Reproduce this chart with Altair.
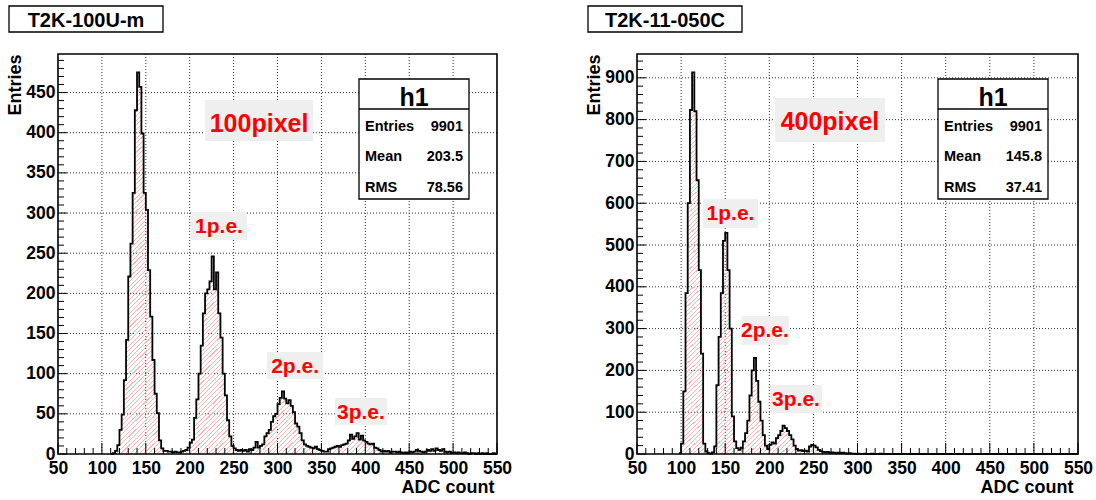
import altair as alt
import numpy as np
import pandas as pd

FONT = "Liberation Sans"

# ---------------- data ----------------
BIN_W = 2.5
LEFT_START = 110.0
LEFT_COUNTS = [
    0, 1, 4, 11, 30, 49, 92, 142, 221, 262,
    325, 428, 475, 457, 399, 325, 304, 229, 171, 117,
    75, 51, 17, 7, 4, 4, 3, 3, 2, 3,
    2, 2, 3, 4, 5, 8, 14, 18, 45, 68,
    100, 135, 175, 200, 205, 215, 246, 205, 226, 175,
    145, 100, 73, 42, 22, 10, 7, 5, 4, 5,
    4, 5, 3, 6, 5, 8, 15, 8, 10, 12,
    22, 26, 30, 40, 47, 50, 62, 70, 78, 69,
    63, 67, 60, 52, 38, 34, 26, 17, 12, 10,
    9, 8, 7, 9, 6, 5, 4, 3, 3, 6,
    7, 8, 9, 10, 9, 11, 12, 13, 17, 24,
    19, 22, 26, 18, 23, 17, 15, 13, 12, 13,
    8, 7, 5, 3, 4, 3, 4, 2, 3, 3,
    2, 3, 2, 1, 2, 1, 3, 2, 3, 5,
    4, 3, 2, 3, 5, 4, 6, 4, 7, 5,
    4, 6, 3, 2, 3, 1, 2, 1, 2, 1,
    1, 2, 1, 0, 1, 1, 0, 1, 0, 1,
    0, 1, 0, 0, 1, 0,
]
RIGHT_START = 97.5
RIGHT_COUNTS = [
    2, 25, 150, 385, 600, 823, 913, 820, 655, 440,
    240, 25, 6, 2, 1, 4, 18, 165, 280, 385,
    510, 529, 440, 300, 90, 30, 14, 10, 15, 30,
    50, 80, 140, 200, 230, 175, 125, 80, 45, 20,
    12, 22, 28, 25, 38, 45, 55, 68, 62, 55,
    45, 35, 20, 12, 8, 9, 7, 8, 6, 18,
    22, 20, 16, 10, 7, 5, 4, 5, 3, 4,
    3, 2, 3, 2, 3, 2, 1, 2, 1, 1,
    0, 1, 0, 0, 1, 0, 0, 1, 0, 0,
    0, 1, 0, 0, 0, 0, 0, 0, 0, 0,
] + [0] * 81

X_LABELS = [50, 100, 150, 200, 250, 300, 350, 400, 450, 500, 550]
X_GRID = [100, 150, 200, 250, 300, 350, 400, 450, 500]
X_MINOR = [v for v in range(60, 550, 10) if v % 50]
LEFT_Y_LABELS = [0, 50, 100, 150, 200, 250, 300, 350, 400, 450]
LEFT_Y_MINOR = [v for v in range(10, 498, 10) if v % 50]
LEFT_YMAX = 498
RIGHT_Y_LABELS = [0, 100, 200, 300, 400, 500, 600, 700, 800, 900]
RIGHT_Y_MINOR = [v for v in range(20, 957, 20) if v % 100]
RIGHT_YMAX = 957

LEFT_TITLE = "T2K-100U-m"
RIGHT_TITLE = "T2K-11-050C"
STAT_NAMES = ["Entries", "Mean", "RMS"]
LEFT_STATS = ["9901", "203.5", "78.56"]
RIGHT_STATS = ["9901", "145.8", "37.41"]

NOTES = ["100pixel", "1p.e.", "2p.e.", "3p.e."]
RIGHT_NOTES = ["400pixel", "1p.e.", "2p.e.", "3p.e."]
NOTE_SIZES = [25, 21, 21, 21]
LEFT_NOTE_X = [279, 233.4, 320, 395]
LEFT_NOTE_Y = [401, 275.2, 101, 43.6]
LEFT_BOX_X1 = [217.4, 201.5, 288, 365.5]
LEFT_BOX_X2 = [340.4, 265.3, 351.8, 424.7]
LEFT_BOX_Y1 = [389.8, 266.5, 93.4, 36.1]
LEFT_BOX_Y2 = [440.8, 301.4, 127, 69.7]
RIGHT_NOTE_X = [268.8, 156, 195, 230.3]
RIGHT_NOTE_Y = [775, 559.8, 280, 114.8]
RIGHT_BOX_X1 = [206.5, 124.8, 168.6, 200.6]
RIGHT_BOX_X2 = [331.2, 187.2, 222, 259.8]
RIGHT_BOX_Y1 = [746.4, 540.7, 260.8, 98]
RIGHT_BOX_Y2 = [851.7, 610, 330, 165]

# ---------------- layout ----------------
H = 400
ONE = pd.DataFrame({"k": [0]})
PINK = "#f6b4b4"
CLEAR = "rgba(255,255,255,0)"


def hatch(width_px):
    n = int(round(2 * width_px / 4.6))
    stops = []
    for k in range(n):
        a, b, c = k / n, (k + 0.24) / n, (k + 1) / n
        stops += [
            {"offset": a, "color": PINK},
            {"offset": b, "color": PINK},
            {"offset": b, "color": CLEAR},
            {"offset": c, "color": CLEAR},
        ]
    return {"gradient": "linear", "x1": 0, "y1": 0, "x2": 1, "y2": 1, "stops": stops}


def txt(s, x, y, size, align="left", color="black"):
    return alt.Chart(ONE).mark_text(
        text=s, font=FONT, fontWeight="bold", fontSize=size, align=align,
        baseline="alphabetic", color=color,
    ).encode(x=alt.value(x), y=alt.value(y))


def box(x1, x2, y1, y2, fill, stroke, sw):
    return alt.Chart(ONE).mark_rect(fill=fill, stroke=stroke, strokeWidth=sw).encode(
        x=alt.value(x1), x2=alt.value(x2), y=alt.value(y1), y2=alt.value(y2)
    )


def panel(counts, start, ymax, ylabels, yminor, x0, pw, title, stats,
          notes, nx, ny, bx1, bx2, by1, by2):
    edges = start + BIN_W * np.arange(len(counts) + 1)
    hist = pd.DataFrame({"x": edges, "n": list(counts) + [counts[-1]]})
    xs = alt.Scale(domain=[50, 550], range=[x0, x0 + pw], nice=False, zero=False)
    ys = alt.Scale(domain=[0, ymax], nice=False)
    xax = alt.Axis(
        values=X_LABELS, orient="bottom", grid=False, ticks=False, tickSize=0,
        domain=False, labelFont=FONT, labelFontWeight="bold", labelFontSize=17.5,
        labelColor="black", labelPadding=5, labelFlush=False, labelOverlap=False,
        format="d", title="ADC count", titleFont=FONT, titleFontWeight="bold",
        titleFontSize=18, titleColor="black", titleX=x0 + 436, titleY=42,
        titleAlign="right", titleBaseline="bottom", titleAngle=0,
    )
    yax = alt.Axis(
        values=ylabels, orient="left", offset=-x0, grid=False, ticks=False,
        tickSize=0, domain=False, labelFont=FONT, labelFontWeight="bold",
        labelFontSize=17.5, labelColor="black", labelPadding=3, labelFlush=False,
        labelOverlap=False, format="d", title="Entries", titleFont=FONT,
        titleFontWeight="bold", titleFontSize=18, titleColor="black",
        titleX=-43, titleY=0, titleAngle=270, titleAlign="right",
        titleBaseline="middle",
    )
    X = lambda f: alt.X(f, scale=xs, axis=xax)
    Y = lambda f: alt.Y(f, scale=ys, axis=yax)

    gx = pd.DataFrame({"g": X_GRID})
    gy = pd.DataFrame({"g": ylabels[1:]})
    xmaj = pd.DataFrame({"t": X_LABELS})
    xmin = pd.DataFrame({"t": X_MINOR})
    ymaj = pd.DataFrame({"t": ylabels})
    ymin = pd.DataFrame({"t": yminor})
    ann = pd.DataFrame({"t": notes, "x": nx, "y": ny, "fs": NOTE_SIZES,
                        "x1": bx1, "x2": bx2, "y1": by1, "y2": by2})

    dotted = dict(strokeDash=[1, 2], color="#333333", strokeWidth=1)
    layers = [
        alt.Chart(gx).mark_rule(**dotted).encode(x=X("g:Q"), y=alt.value(0), y2=alt.value(H)),
        alt.Chart(gy).mark_rule(**dotted).encode(y=Y("g:Q"), x=alt.value(x0), x2=alt.value(x0 + pw)),
        alt.Chart(hist).mark_area(interpolate="step-after", fill=hatch(
            (550 - start) * pw / 500), fillOpacity=1).encode(x=X("x:Q"), y=Y("n:Q")),
        alt.Chart(hist).mark_line(interpolate="step-after", color="black",
                                  strokeWidth=1.8).encode(x=X("x:Q"), y=Y("n:Q")),
        alt.Chart(xmaj).mark_rule(color="black", strokeWidth=1).encode(
            x=X("t:Q"), y=alt.value(H), y2=alt.value(H - 11)),
        alt.Chart(xmin).mark_rule(color="black", strokeWidth=1).encode(
            x=X("t:Q"), y=alt.value(H), y2=alt.value(H - 6)),
        alt.Chart(ymaj).mark_rule(color="black", strokeWidth=1).encode(
            y=Y("t:Q"), x=alt.value(x0), x2=alt.value(x0 + 9)),
        alt.Chart(ymin).mark_rule(color="black", strokeWidth=1).encode(
            y=Y("t:Q"), x=alt.value(x0), x2=alt.value(x0 + 6)),
        box(x0, x0 + pw, 0, H, "transparent", "black", 1.6),
        alt.Chart(ann).mark_rect(color="#efefef").encode(
            x=X("x1:Q"), x2="x2:Q", y=Y("y1:Q"), y2="y2:Q"),
        alt.Chart(ann).mark_text(font=FONT, fontWeight="bold", color="#ff0000",
                                 align="center", baseline="alphabetic").encode(
            x=X("x:Q"), y=Y("y:Q"), text="t:N",
            size=alt.Size("fs:Q", scale=None, legend=None)),
        # stats box
        box(x0 + 301, x0 + 411, 25, 145, "white", "black", 1.3),
        alt.Chart(ONE).mark_rule(color="black", strokeWidth=1.3).encode(
            x=alt.value(x0 + 301), x2=alt.value(x0 + 411), y=alt.value(55)),
        txt("h1", x0 + 356, 52, 25, "center"),
    ]
    for i, (nm, val) in enumerate(zip(STAT_NAMES, stats)):
        yy = 76.5 + 30.5 * i
        layers.append(txt(nm, x0 + 307, yy, 14.5, "left"))
        layers.append(txt(val, x0 + 405, yy, 14.5, "right"))
    # title box
    layers.append(box(x0 - 49, x0 + 105, -48, -22, "white", "black", 1.3))
    layers.append(txt(title, x0 + 28, -27, 20, "center"))
    return alt.layer(*layers)


left = panel(LEFT_COUNTS, LEFT_START, LEFT_YMAX, LEFT_Y_LABELS, LEFT_Y_MINOR,
             0, 439, LEFT_TITLE, LEFT_STATS, NOTES, LEFT_NOTE_X, LEFT_NOTE_Y,
             LEFT_BOX_X1, LEFT_BOX_X2, LEFT_BOX_Y1, LEFT_BOX_Y2)
right = panel(RIGHT_COUNTS, RIGHT_START, RIGHT_YMAX, RIGHT_Y_LABELS, RIGHT_Y_MINOR,
              579, 441, RIGHT_TITLE, RIGHT_STATS, RIGHT_NOTES, RIGHT_NOTE_X,
              RIGHT_NOTE_Y, RIGHT_BOX_X1, RIGHT_BOX_X2, RIGHT_BOX_Y1, RIGHT_BOX_Y2)

chart = alt.layer(left, right).resolve_scale(
    x="independent", y="independent"
).resolve_axis(
    x="independent", y="independent"
).properties(
    width=1020, height=H,
    autosize=alt.AutoSizeParams(type="none"),
    padding={"left": 58, "top": 54, "right": 18, "bottom": 46},
    background="white",
).configure_view(strokeWidth=0)

chart.save("out.html", embed_options={"renderer": "svg", "actions": False})
